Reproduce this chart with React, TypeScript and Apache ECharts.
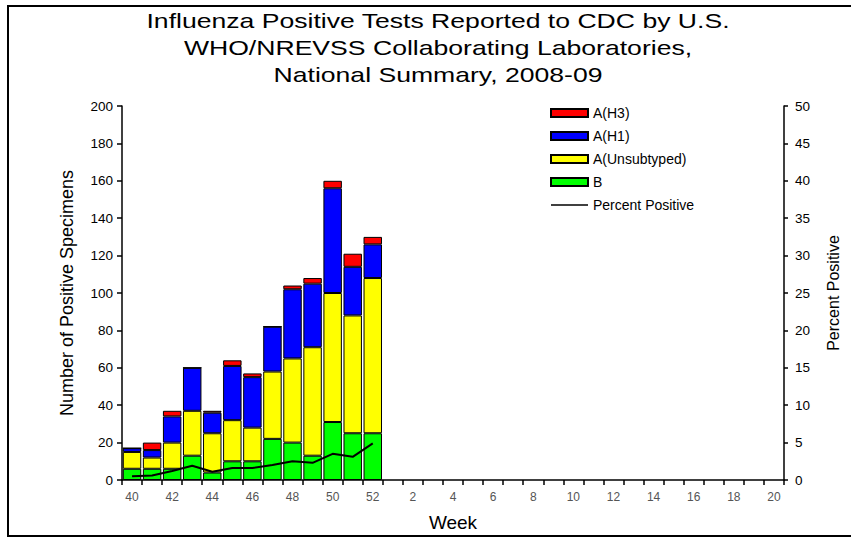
import React, { useEffect, useRef } from "react";
import * as echarts from "echarts";

const weeks = [
  "40", "41", "42", "43", "44", "45", "46", "47", "48", "49", "50", "51", "52",
  "1", "2", "3", "4", "5", "6", "7", "8", "9", "10", "11", "12", "13", "14", "15", "16", "17", "18", "19", "20",
];
const fluB = [6, 6, 6, 13, 4, 10, 10, 22, 20, 13, 31, 25, 25];
const fluUnsubtyped = [9, 6, 14, 24, 21, 22, 18, 36, 45, 58, 69, 63, 83];
const fluH1 = [2, 4, 14, 23, 11, 29, 27, 24, 37, 34, 56, 26, 18];
const fluH3 = [0, 4, 3, 0, 1, 3, 2, 0, 2, 3, 4, 7, 4];
const percentPositive = [0.5, 0.6, 1.2, 1.9, 1.1, 1.6, 1.6, 2.0, 2.5, 2.3, 3.5, 3.1, 4.9];
const titleLines = [
  "Influenza Positive Tests Reported to CDC by U.S.",
  "WHO/NREVSS Collaborating Laboratories,",
  "National Summary, 2008-09",
];

const FONT = "'Liberation Sans', Arial, sans-serif";

export default function App() {
  const ref = useRef<HTMLDivElement>(null);
  useEffect(() => {
    const chart = echarts.init(ref.current!, null, { renderer: "svg" });
    const pad = (arr: number[]) => weeks.map((_, i) => (i < arr.length ? arr[i] : null));
    const barSeries = (name: string, data: number[], color: string) => ({
      name,
      type: "bar",
      stack: "flu",
      data: pad(data),
      barCategoryGap: "8%",
      itemStyle: { color, borderColor: "#000", borderWidth: 1 },
    });
    const axisLine = { show: true, lineStyle: { color: "#000", width: 1.5 } };
    const option: any = {
      animation: false,
      backgroundColor: "#fff",
      textStyle: { fontFamily: FONT },
      grid: { left: 122, right: 67, top: 106, bottom: 58 },
      graphic: [
        {
          type: "rect",
          silent: true,
          shape: { x: 8, y: 6, width: 900, height: 530 },
          style: { fill: "none", stroke: "#000", lineWidth: 2 },
        },
        {
          type: "text",
          x: 438,
          y: 8,
          scaleX: 1.33,
          style: {
            text: titleLines.join("\n"),
            fontSize: 20,
            lineHeight: 27,
            fontFamily: FONT,
            fill: "#000",
            textAlign: "center",
            textVerticalAlign: "top",
          },
        },
      ],
      legend: {
        orient: "vertical",
        left: 545,
        top: 101,
        itemWidth: 37,
        itemHeight: 8,
        itemGap: 9,
        textStyle: { fontSize: 14, lineHeight: 14, color: "#000", fontFamily: FONT },
        data: [
          { name: "A(H3)", icon: "rect" },
          { name: "A(H1)", icon: "rect" },
          { name: "A(Unsubtyped)", icon: "rect" },
          { name: "B", icon: "rect" },
          { name: "Percent Positive", itemStyle: { opacity: 0 }, lineStyle: { width: 1.5 } },
        ],
      },
      xAxis: {
        type: "category",
        data: weeks,
        boundaryGap: true,
        axisLine,
        axisTick: { show: true, interval: 0, length: 5, alignWithLabel: false, lineStyle: { color: "#000", width: 1.5 } },
        axisLabel: { interval: 1, color: "#555", fontSize: 12, margin: 11, fontFamily: FONT },
        name: "Week",
        nameLocation: "middle",
        nameGap: 33,
        nameTextStyle: { fontSize: 19, color: "#000", fontFamily: FONT },
      },
      yAxis: [
        {
          type: "value",
          min: 0,
          max: 200,
          interval: 20,
          position: "left",
          axisLine,
          axisTick: { show: true, length: 5, lineStyle: { color: "#000", width: 1.5 } },
          axisLabel: { fontSize: 13.5, color: "#000", margin: 9, fontFamily: FONT },
          splitLine: { show: false },
          name: "Number of Positive Specimens",
          nameLocation: "middle",
          nameGap: 46,
          nameTextStyle: { fontSize: 18, color: "#000", fontFamily: FONT },
        },
        {
          type: "value",
          min: 0,
          max: 50,
          interval: 5,
          position: "right",
          axisLine,
          axisTick: { show: true, length: 4, lineStyle: { color: "#000", width: 1.5 } },
          axisLabel: { fontSize: 13.5, color: "#000", margin: 11, fontFamily: FONT },
          splitLine: { show: false },
          name: "Percent Positive",
          nameLocation: "middle",
          nameGap: 41,
          nameTextStyle: { fontSize: 16, color: "#000", fontFamily: FONT },
        },
      ],
      series: [
        barSeries("B", fluB, "#00ff00"),
        barSeries("A(Unsubtyped)", fluUnsubtyped, "#ffff00"),
        barSeries("A(H1)", fluH1, "#0000ff"),
        barSeries("A(H3)", fluH3, "#ff0000"),
        {
          name: "Percent Positive",
          type: "line",
          yAxisIndex: 1,
          data: pad(percentPositive),
          symbol: "none",
          z: 5,
          lineStyle: { color: "#000", width: 2 },
          itemStyle: { color: "#000" },
        },
      ],
    };
    chart.setOption(option);
    return () => chart.dispose();
  }, []);
  return (
    <div
      ref={ref}
      style={{ position: "absolute", left: 0, top: 0, width: 851, height: 538, background: "#fff" }}
    />
  );
}
